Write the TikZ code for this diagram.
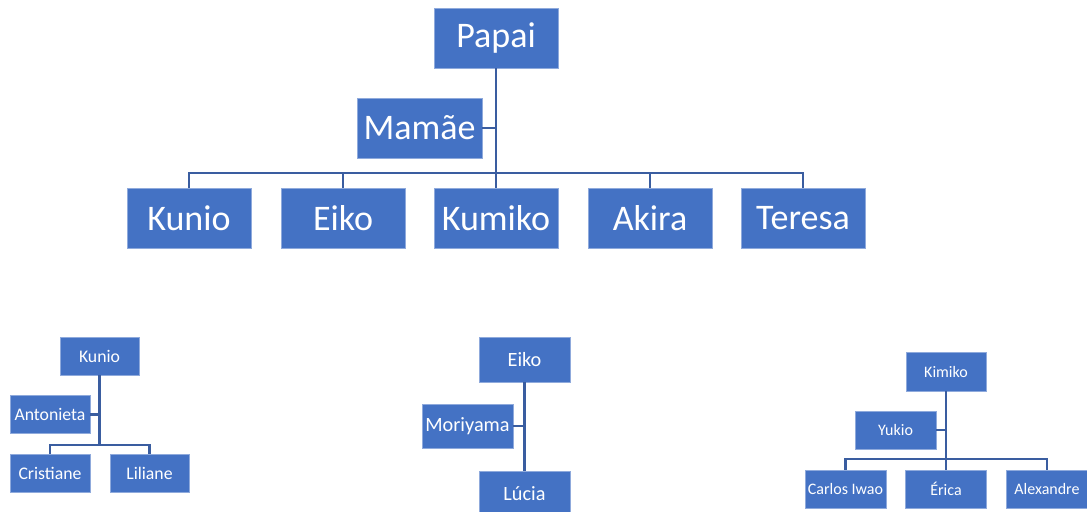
\documentclass[tikz,border=0pt]{standalone}
\usepackage{fontspec}
\setmainfont{Carlito}
\definecolor{boxblue}{HTML}{4472C4}
\definecolor{boxedge}{HTML}{8FAADC}
\definecolor{linkblue}{HTML}{3A5DA0}
\tikzset{
  box/.style={rectangle, fill=boxblue, draw=boxedge, line width=0.4pt,
    text=white, inner sep=0pt},
  dims/.style 2 args={minimum width=#1*0.75pt, minimum height=#2*0.75pt},
  bigbox/.style={box, dims={124}{60}, font=\fontsize{27}{30}\selectfont},
  lbox/.style={box, dims={80}{38}, font=\fontsize{13.3}{15}\selectfont},
  mbox/.style={box, dims={91}{45}, font=\fontsize{15.2}{17}\selectfont},
  rbox/.style={box, dims={81}{38}, font=\fontsize{12}{14}\selectfont},
  link/.style={draw=linkblue, line width=2pt},
  slink/.style={draw=linkblue, line width=1.7pt}
}
\begin{document}
\begin{tikzpicture}[x=0.75pt, y=-0.75pt]
\clip (0,0) rectangle (1087,511);

% main family
\node[bigbox] (papai) at (496,38) {Papai};
\node[bigbox, dims={125}{60}] (mamae) at (419.5,128) {Mamãe};
\node[bigbox] (kunio) at (189,218) {Kunio};
\node[bigbox] (eiko) at (343,218) {Eiko};
\node[bigbox] (kumiko) at (496,218) {Kumiko};
\node[bigbox] (akira) at (650,218) {Akira};
\node[bigbox] (teresa) at (803,218) {Teresa};
\coordinate (bar) at (0,173);
\draw[link] (papai.south) -- (papai.south |- bar);
\draw[link] (mamae.east) -- (papai.south |- mamae.east);
\draw[link] (kunio.north) -- (kunio.north |- bar) -- (teresa.north |- bar) -- (teresa.north);
\draw[link] (eiko.north) -- (eiko.north |- bar);
\draw[link] (kumiko.north) -- (kumiko.north |- bar);
\draw[link] (akira.north) -- (akira.north |- bar);

% Kunio's family
\node[lbox, dims={79}{38}] (lkunio) at (99.5,356) {Kunio};
\node[lbox] (antonieta) at (50,414.5) {Antonieta};
\node[lbox] (cristiane) at (50,473) {Cristiane};
\node[lbox, dims={79}{38}] (liliane) at (149.5,473) {Liliane};
\coordinate (lbar) at (0,445);
\draw[slink] (lkunio.south) -- (lkunio.south |- lbar);
\draw[slink] (antonieta.east) -- (lkunio.south |- antonieta.east);
\draw[slink] (cristiane.north) -- (cristiane.north |- lbar) -- (liliane.north |- lbar) -- (liliane.north);

% Eiko's family
\node[mbox] (meiko) at (524.5,359.5) {Eiko};
\node[mbox, dims={91}{44}] (moriyama) at (467.5,426) {Moriyama};
\node[mbox] (lucia) at (524.5,493.5) {Lúcia};
\draw[slink] (meiko.south) -- (lucia.north);
\draw[slink] (moriyama.east) -- (meiko.south |- moriyama.east);

% Kimiko's family
\node[rbox, dims={80}{39}] (kimiko) at (946,371.5) {Kimiko};
\node[rbox] (yukio) at (895.5,430) {Yukio};
\node[rbox] (carlos) at (845.5,489) {Carlos Iwao};
\node[rbox] (erica) at (946,489) {Érica};
\node[rbox] (alexandre) at (1047,489) {Alexandre};
\coordinate (rbar) at (0,459);
\draw[slink] (kimiko.south) -- (kimiko.south |- rbar);
\draw[slink] (yukio.east) -- (kimiko.south |- yukio.east);
\draw[slink] (carlos.north) -- (carlos.north |- rbar) -- (alexandre.north |- rbar) -- (alexandre.north);
\draw[slink] (erica.north) -- (erica.north |- rbar);
\end{tikzpicture}
\end{document}
